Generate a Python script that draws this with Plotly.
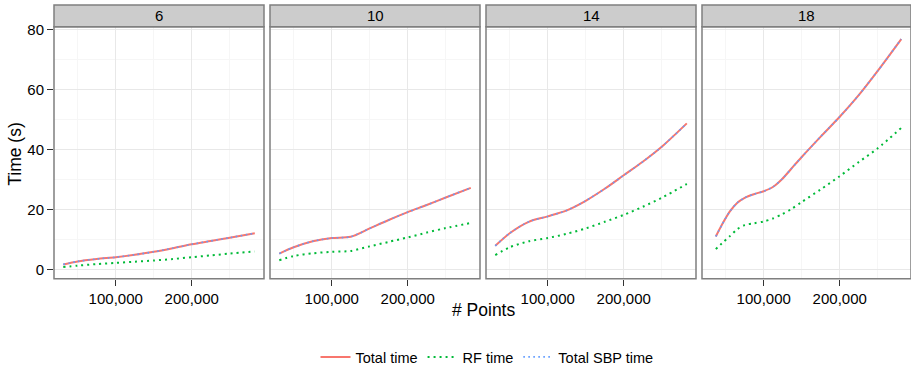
import plotly.graph_objects as go

# ---- data ----
panels = ["6", "10", "14", "18"]

x_6 = [31000, 50000, 75000, 100000, 125000, 150000, 175000, 200000, 225000, 250000, 283000]
x_10 = [31000, 50000, 75000, 100000, 125000, 150000, 175000, 200000, 225000, 250000, 283000]
x_14 = [31000, 50000, 75000, 100000, 125000, 150000, 175000, 200000, 225000, 250000, 283000]
x_18 = [37000, 45000, 55000, 65000, 75000, 87000, 100000, 112000, 124000, 136000,
        150000, 175000, 200000, 225000, 250000, 281000]

total_6 = [1.8, 2.8, 3.6, 4.2, 5.0, 6.0, 7.2, 8.5, 9.6, 10.7, 12.2]
rf_6 = [0.9, 1.4, 1.9, 2.3, 2.7, 3.1, 3.6, 4.2, 4.8, 5.4, 6.1]

total_10 = [5.4, 7.5, 9.5, 10.6, 11.0, 13.8, 16.6, 19.2, 21.6, 24.1, 27.3]
rf_10 = [3.2, 4.6, 5.5, 6.0, 6.3, 7.8, 9.3, 10.8, 12.4, 13.9, 15.6]

total_14 = [8.0, 12.2, 16.0, 17.8, 19.8, 23.0, 27.0, 31.5, 36.0, 41.0, 48.8]
rf_14 = [4.9, 7.5, 9.5, 10.6, 12.0, 13.8, 16.0, 18.3, 21.0, 24.0, 28.6]

total_18 = [11.1, 15.0, 19.3, 22.3, 24.0, 25.2, 26.2, 27.6, 30.2, 33.6,
            37.6, 44.4, 51.0, 58.2, 66.3, 76.9]
rf_18 = [6.9, 8.8, 11.1, 13.5, 14.9, 15.5, 16.1, 17.1, 18.5, 20.2,
         22.6, 26.8, 31.2, 35.9, 40.5, 47.3]

# Total SBP time coincides with Total time
sbp_6, sbp_10, sbp_14, sbp_18 = total_6, total_10, total_14, total_18

x_ticks = [100000, 200000]
x_ticklabels = ["100,000", "200,000"]
x_minor = [50000, 150000, 250000]
y_ticks = [0, 20, 40, 60, 80]
y_minor = [10, 30, 50, 70]

series_x = [x_6, x_10, x_14, x_18]
series_total = [total_6, total_10, total_14, total_18]
series_rf = [rf_6, rf_10, rf_14, rf_18]
series_sbp = [sbp_6, sbp_10, sbp_14, sbp_18]

# ---- layout geometry ----
W, H = 911, 373
FONT = "Liberation Sans, Arial, Helvetica, sans-serif"
px_left = [54, 270, 486, 702]
px_right = [264, 480, 696, 911]
plot_top, plot_bot = 27, 281
strip_top = 5
x_range_full = [18800, 295100]

RED, GREEN, BLUE = "#F8766D", "#00BA38", "#619CFF"

fig = go.Figure()
shapes = []
annotations = []

for i, name in enumerate(panels):
    sfx = "" if i == 0 else str(i + 1)
    xa, ya = "x" + sfx, "y" + sfx
    first = i == 0
    fig.add_trace(go.Scatter(x=series_x[i], y=series_total[i], mode="lines",
                             line=dict(color=RED, width=2, shape="spline", smoothing=0.8),
                             name="Total time", legendgroup="t", showlegend=first,
                             xaxis=xa, yaxis=ya))
    fig.add_trace(go.Scatter(x=series_x[i], y=series_rf[i], mode="lines",
                             line=dict(color=GREEN, width=2, dash="2px,4px", shape="spline", smoothing=0.8),
                             name="RF time", legendgroup="r", showlegend=first,
                             xaxis=xa, yaxis=ya))
    fig.add_trace(go.Scatter(x=series_x[i], y=series_sbp[i], mode="lines",
                             line=dict(color=BLUE, width=1.6, dash="1.6px,3.4px", shape="spline", smoothing=0.8),
                             name="Total SBP time", legendgroup="s", showlegend=first,
                             xaxis=xa, yaxis=ya))

    width_px = px_right[i] - px_left[i]
    span = (x_range_full[1] - x_range_full[0]) * width_px / 210.0
    xr = [x_range_full[0], x_range_full[0] + span]

    xdict = dict(domain=[px_left[i] / W, px_right[i] / W], range=xr, anchor=ya, automargin=False,
                 tickvals=x_ticks, ticktext=x_ticklabels, ticks="outside", ticklen=6,
                 tickwidth=1.2, tickcolor="#333333", showgrid=True, gridcolor="#E8E8E8",
                 gridwidth=1.2, zeroline=False, showline=False,
                 tickfont=dict(family=FONT, size=15, color="#000000"),
                 minor=dict(tickvals=x_minor, showgrid=True, gridcolor="#F6F6F6", gridwidth=1, ticks=""))
    ydict = dict(domain=[(H - plot_bot) / H, (H - plot_top) / H], range=[-2.98, 81.0], anchor=xa,
                 automargin=False,
                 tickvals=y_ticks, showgrid=True, gridcolor="#E8E8E8", gridwidth=1.2,
                 zeroline=False, showline=False,
                 minor=dict(tickvals=y_minor, showgrid=True, gridcolor="#F6F6F6", gridwidth=1, ticks=""),
                 tickfont=dict(family=FONT, size=15, color="#000000"))
    if first:
        ydict.update(ticks="outside", ticklen=6, tickwidth=1.2, tickcolor="#333333", showticklabels=True)
    else:
        ydict.update(ticks="", showticklabels=False)
    fig.layout["xaxis" + sfx] = xdict
    fig.layout["yaxis" + sfx] = ydict

    # panel border
    shapes.append(dict(type="rect", xref=xa + " domain", yref=ya + " domain", x0=0, x1=1, y0=0, y1=1,
                       line=dict(color="#7F7F7F", width=1.5), fillcolor="rgba(0,0,0,0)", layer="above"))
    # strip
    shapes.append(dict(type="rect", xref=xa + " domain", yref="paper", x0=0, x1=1,
                       y0=(H - plot_top) / H, y1=(H - strip_top) / H,
                       line=dict(color="#7F7F7F", width=1.5), fillcolor="#CCCCCC", layer="above"))
    annotations.append(dict(text=name, xref=xa + " domain", yref="paper", x=0.5,
                            y=(H - (strip_top + plot_top) / 2) / H, showarrow=False,
                            xanchor="center", yanchor="middle",
                            font=dict(family=FONT, size=15, color="#000000")))

annotations.append(dict(text="# Points", xref="paper", yref="paper", x=483 / W, y=(H - 313) / H,
                        showarrow=False, xanchor="center", yanchor="middle",
                        font=dict(family=FONT, size=17.5, color="#000000")))
annotations.append(dict(text="Time (s)", xref="paper", yref="paper", x=15 / W, y=(H - 155) / H,
                        showarrow=False, xanchor="center", yanchor="middle", textangle=-90,
                        font=dict(family=FONT, size=17.5, color="#000000")))

fig.update_layout(
    width=W, height=H, margin=dict(l=0, r=0, t=0, b=0),
    paper_bgcolor="white", plot_bgcolor="white",
    shapes=shapes, annotations=annotations,
    legend=dict(orientation="h", x=487 / W, y=(H - 360) / H, xanchor="center", yanchor="middle",
                font=dict(family=FONT, size=14.5, color="#000000"), itemwidth=30,
                bgcolor="rgba(0,0,0,0)", tracegroupgap=0),
)

fig.write_html("out.html", config={"displayModeBar": False},
               post_script="document.body.style.margin='0px';")
